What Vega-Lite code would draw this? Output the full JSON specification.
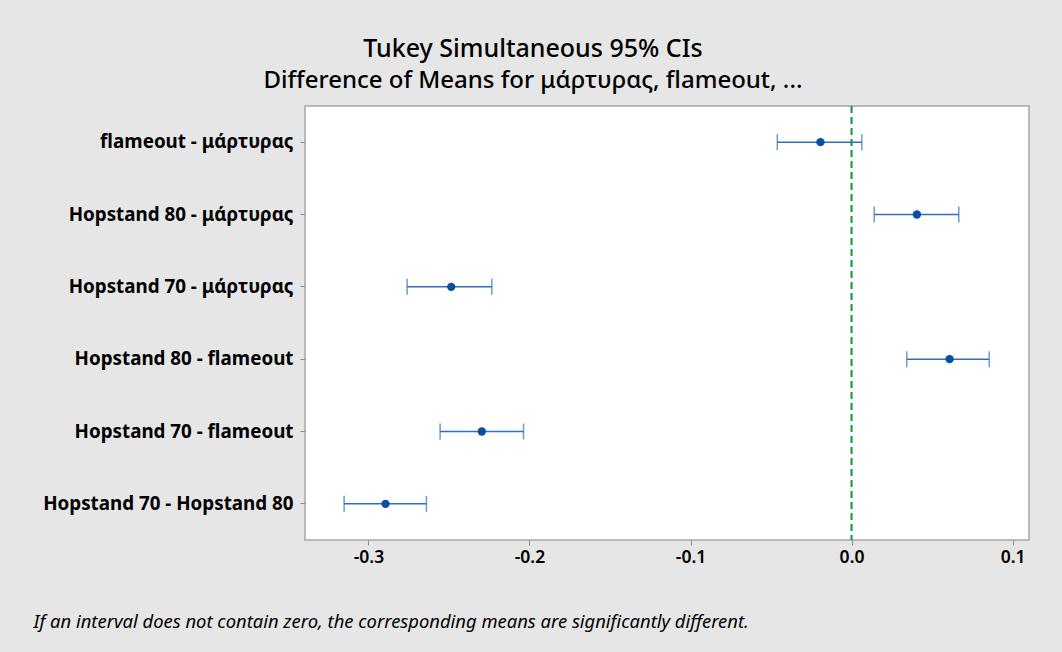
{
  "$schema": "https://vega.github.io/schema/vega-lite/v6.json",
  "width": 724,
  "height": 434,
  "autosize": "none",
  "padding": {"left": 305, "top": 106, "right": 33, "bottom": 112},
  "background": "#e6e6e6",
  "title": {
    "text": "Tukey Simultaneous 95% CIs",
    "subtitle": "Difference of Means for μάρτυρας, flameout, ...",
    "anchor": "middle",
    "frame": "bounds",
    "dx": 2,
    "font": "Noto Sans",
    "fontSize": 25,
    "fontWeight": 500,
    "color": "#000000",
    "subtitleFont": "Noto Sans",
    "subtitleFontSize": 24,
    "subtitleFontWeight": 500,
    "subtitleColor": "#000000",
    "subtitlePadding": 7,
    "offset": 12
  },
  "config": {
    "view": {"fill": "#ffffff", "stroke": "#a6a6a6", "strokeWidth": 1.5},
    "axis": {"grid": false, "domain": false, "tickColor": "#8c8c8c", "labelColor": "#000000", "labelFont": "Noto Sans"}
  },
  "data": {
    "values": [
      {"comparison": "flameout - μάρτυρας", "diff": -0.0193, "lower": -0.0461, "upper": 0.0064},
      {"comparison": "Hopstand 80 - μάρτυρας", "diff": 0.0406, "lower": 0.0141, "upper": 0.0666},
      {"comparison": "Hopstand 70 - μάρτυρας", "diff": -0.2486, "lower": -0.2760, "upper": -0.2234},
      {"comparison": "Hopstand 80 - flameout", "diff": 0.0609, "lower": 0.0343, "upper": 0.0855},
      {"comparison": "Hopstand 70 - flameout", "diff": -0.2296, "lower": -0.2555, "upper": -0.2037},
      {"comparison": "Hopstand 70 - Hopstand 80", "diff": -0.2894, "lower": -0.3151, "upper": -0.2640}
    ]
  },
  "encoding": {
    "y": {
      "field": "comparison",
      "type": "nominal",
      "sort": null,
      "scale": {"paddingInner": 0, "paddingOuter": 0},
      "axis": {
        "title": null,
        "labelFontSize": 18.8,
        "labelFontWeight": "bold",
        "labelPadding": 7,
        "labelLimit": 400,
        "tickSize": 5
      }
    }
  },
  "layer": [
    {
      "data": {"values": [{"zero": 0}]},
      "mark": {"type": "rule", "color": "#12933a", "strokeWidth": 2, "strokeDash": [7, 4]},
      "encoding": {"x": {"field": "zero", "type": "quantitative"}, "y": null}
    },
    {
      "mark": {"type": "rule", "color": "#2f6fbf", "strokeWidth": 1.5},
      "encoding": {
        "x": {
          "field": "lower",
          "type": "quantitative",
          "scale": {"domain": [-0.3394, 0.1102], "nice": false, "zero": false},
          "axis": {
            "values": [-0.3, -0.2, -0.1, 0, 0.1],
            "labelExpr": "datum.value < -0.00001 ? '-' + format(-datum.value, '.1f') : format(datum.value, '.1f')",
            "labelFontSize": 17.5,
            "labelFontWeight": 600,
            "labelPadding": 3,
            "tickSize": 5,
            "title": "If an interval does not contain zero, the corresponding means are significantly different.",
            "titleFont": "Noto Sans",
            "titleFontSize": 18.4,
            "titleFontStyle": "italic",
            "titleFontWeight": "normal",
            "titleColor": "#000000",
            "titleAnchor": "start",
            "titleAlign": "left",
            "titleBaseline": "alphabetic",
            "titleX": -272,
            "titleY": 87
          }
        },
        "x2": {"field": "upper"}
      }
    },
    {
      "mark": {"type": "tick", "color": "#2f6fbf", "thickness": 1.5, "size": 16},
      "encoding": {"x": {"field": "lower", "type": "quantitative"}}
    },
    {
      "mark": {"type": "tick", "color": "#2f6fbf", "thickness": 1.5, "size": 16},
      "encoding": {"x": {"field": "upper", "type": "quantitative"}}
    },
    {
      "mark": {"type": "point", "filled": true, "shape": "circle", "size": 70, "color": "#0a4fa0", "opacity": 1},
      "encoding": {"x": {"field": "diff", "type": "quantitative"}}
    }
  ]
}
